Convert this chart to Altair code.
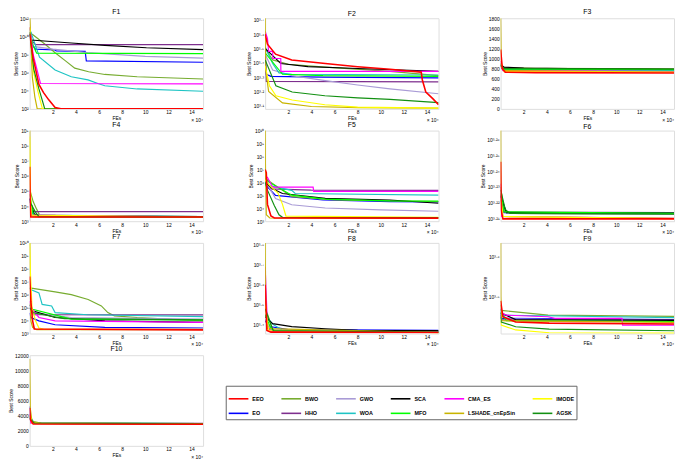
import altair as alt
import pandas as pd

# ---------------- data (x in units of 10^4 FEs) ----------------
ALGS = ["EO", "BWO", "HHO", "GWO", "WOA", "SCA", "MFO", "CMA_ES",
        "LSHADE_cnEpSin", "IMODE", "AGSK", "EEO"]          # drawing order (EEO on top)
LEGEND_ORDER = ["EEO", "EO", "BWO", "HHO", "GWO", "WOA",
                "SCA", "MFO", "CMA_ES", "LSHADE_cnEpSin", "IMODE", "AGSK"]
LEGEND_COLORS = ["#FF0000", "#0000FF", "#77AC30", "#7E2F8E", "#A99BD6", "#1FC4C4",
                 "#000000", "#00FF00", "#FF00FF", "#C8B400", "#FFFF00", "#129012"]

X_TICKS = [2, 4, 6, 8, 10, 12, 14]
X_DOMAIN = [0, 15]

# log panels hold log10(best score); linear panels hold best score
F1 = {
    "EEO": [(0, 10.3), (0.3, 7.6), (0.8, 4.7), (1.2, 3.8), (1.65, 3.0), (2.2, 2.15), (2.7, 2.02), (15, 2.02)],
    "EO": [(0, 10.3), (0.2, 9.1), (0.5, 8.6), (2.2, 8.5), (2.3, 8.4), (4.8, 8.35), (4.9, 7.3), (15, 7.15)],
    "BWO": [(0, 10.5), (0.25, 10.2), (1.36, 9.1), (2.2, 8.2), (3.1, 7.3), (3.9, 6.5), (5.1, 6.1), (6.5, 5.8), (9.3, 5.55), (15, 5.3)],
    "HHO": [(0, 11.0), (0.2, 9.5), (0.5, 9.1), (15, 9.1)],
    "GWO": [(0, 10.4), (0.3, 8.9), (2, 8.6), (5, 8.2), (10, 7.8), (15, 7.6)],
    "WOA": [(0, 10.8), (0.1, 10.5), (0.85, 7.7), (2.2, 6.3), (3.6, 5.55), (5.05, 5.2), (5.9, 4.8), (6.5, 4.55), (9.3, 4.2), (15, 3.95)],
    "SCA": [(0, 10.2), (0.1, 9.6), (3.6, 9.27), (6.5, 9.0), (10.1, 8.75), (15, 8.55)],
    "MFO": [(0, 10.3), (0.3, 9.0), (0.6, 8.15), (15, 8.1)],
    "CMA_ES": [(0, 11.0), (0.3, 8.0), (0.94, 4.8), (15, 4.77)],
    "LSHADE_cnEpSin": [(0, 12.5), (0.1, 9.5), (0.23, 5.5), (0.45, 3.3), (0.65, 2.02), (15, 2.02)],
    "IMODE": [(0, 11.0), (0.3, 6.3), (0.7, 4.0), (1.1, 2.02), (15, 2.02)],
    "AGSK": [(0, 10.5), (0.35, 6.4), (0.8, 4.2), (1.3, 2.02), (15, 2.02)],
}
F2 = {
    "EEO": [(0, 3.6), (0.2, 3.53), (0.9, 3.46), (2.3, 3.42), (5.2, 3.395), (8, 3.373), (10.8, 3.355), (12.2, 3.344), (13.5, 3.335), (13.6, 3.28), (13.9, 3.195), (14.5, 3.15), (15, 3.107)],
    "EO": [(0, 3.45), (0.1, 3.32), (0.5, 3.305), (5, 3.30), (15, 3.295)],
    "BWO": [(0, 3.5), (0.65, 3.42), (2, 3.39), (5.2, 3.37), (10.8, 3.34), (15, 3.31)],
    "HHO": [(0, 3.5), (0.1, 3.27), (15, 3.267)],
    "GWO": [(0, 3.46), (0.65, 3.35), (2.3, 3.31), (5.2, 3.275), (8, 3.245), (10.8, 3.218), (15, 3.184)],
    "WOA": [(0, 3.51), (0.65, 3.395), (1.2, 3.33), (2.3, 3.32), (15, 3.315)],
    "SCA": [(0, 3.5), (0.65, 3.45), (1.35, 3.395), (3.7, 3.373), (8, 3.36), (15, 3.34)],
    "MFO": [(0, 3.47), (1.5, 3.32), (5, 3.31), (15, 3.305)],
    "CMA_ES": [(0, 3.62), (0.2, 3.57), (0.3, 3.48), (0.65, 3.48), (0.66, 3.43), (1.35, 3.43), (1.36, 3.34), (15, 3.34)],
    "LSHADE_cnEpSin": [(0, 3.75), (0.05, 3.35), (0.3, 3.2), (1.5, 3.12), (4, 3.095), (8, 3.087), (15, 3.084)],
    "IMODE": [(0, 3.38), (0.37, 3.24), (0.93, 3.17), (2.34, 3.14), (5.17, 3.107), (8, 3.091), (15, 3.084)],
    "AGSK": [(0, 3.42), (0.93, 3.24), (2.34, 3.196), (5.17, 3.17), (8, 3.155), (10.8, 3.144), (15, 3.122)],
}
F3 = {
    "EEO": [(0, 1180), (0.15, 800), (0.4, 730), (3, 720), (15, 712)],
    "EO": [(0, 900), (0.2, 800), (2, 785), (15, 770)],
    "BWO": [(0, 880), (0.3, 820), (3, 805), (15, 795)],
    "HHO": [(0, 850), (0.2, 770), (15, 765)],
    "GWO": [(0, 880), (0.3, 780), (5, 760), (15, 745)],
    "WOA": [(0, 900), (0.3, 790), (15, 760)],
    "SCA": [(0, 870), (0.3, 830), (2, 810), (8, 795), (15, 785)],
    "MFO": [(0, 850), (0.3, 790), (15, 780)],
    "CMA_ES": [(0, 950), (0.2, 760), (15, 740)],
    "LSHADE_cnEpSin": [(0, 1850), (0.05, 900), (0.3, 760), (15, 730)],
    "IMODE": [(0, 900), (0.3, 740), (15, 725)],
    "AGSK": [(0, 870), (0.3, 800), (15, 790)],
}
F4 = {
    "EEO": [(0, 6.6), (0.05, 4.0), (0.1, 3.28), (15, 3.28)],
    "EO": [(0, 4.5), (0.3, 3.5), (0.6, 3.42), (0.75, 3.3), (15, 3.29)],
    "BWO": [(0, 5.1), (0.3, 4.3), (0.6, 3.8), (0.9, 3.35), (15, 3.3)],
    "HHO": [(0, 4.5), (0.2, 3.64), (15, 3.64)],
    "GWO": [(0, 4.3), (0.3, 3.45), (2.2, 3.4), (2.3, 3.3), (15, 3.29)],
    "WOA": [(0, 4.5), (0.3, 3.4), (15, 3.3)],
    "SCA": [(0, 4.5), (0.4, 3.45), (1, 3.35), (15, 3.3)],
    "MFO": [(0, 4.8), (0.3, 3.5), (0.5, 3.3), (15, 3.29)],
    "CMA_ES": [(0, 5.0), (0.1, 3.4), (15, 3.28)],
    "LSHADE_cnEpSin": [(0, 9.5), (0.03, 6.0), (0.08, 3.5), (0.3, 3.3), (15, 3.28)],
    "IMODE": [(0, 8.6), (0.05, 5.5), (0.15, 3.4), (15, 3.28)],
    "AGSK": [(0, 4.3), (0.5, 3.6), (0.8, 3.3), (15, 3.29)],
}
F5 = {
    "EEO": [(0, 7.0), (0.1, 6.75), (0.2, 4.3), (0.5, 3.4), (0.8, 3.25), (15, 3.24)],
    "EO": [(0, 6.0), (0.1, 5.75), (0.9, 5.0), (5, 4.64), (10.8, 4.52), (15, 4.5)],
    "BWO": [(0, 6.4), (0.1, 6.25), (2.3, 4.9), (6, 4.65), (15, 4.52)],
    "HHO": [(0, 6.3), (0.5, 5.5), (4, 5.4), (15, 5.38)],
    "GWO": [(0, 6.2), (0.1, 6.0), (0.9, 4.76), (2.3, 4.27), (5.2, 4.02), (10, 3.88), (15, 3.77)],
    "WOA": [(0, 6.1), (0.35, 5.75), (2.3, 5.38), (2.6, 5.14), (15, 5.01)],
    "SCA": [(0, 6.0), (0.65, 5.5), (1.5, 5.14), (5.2, 4.76), (10.8, 4.64), (15, 4.39)],
    "MFO": [(0, 6.3), (0.35, 6.0), (2.3, 5.01), (5.2, 4.71), (10.8, 4.57), (15, 4.55)],
    "CMA_ES": [(0, 6.5), (0.2, 6.38), (0.65, 5.63), (4.15, 5.63), (4.2, 5.3), (15, 5.3)],
    "LSHADE_cnEpSin": [(0, 10.5), (0.03, 7.0), (0.1, 3.5), (0.4, 3.25), (15, 3.23)],
    "IMODE": [(0, 6.2), (0.4, 5.75), (1.1, 5.2), (1.5, 4.3), (1.8, 3.4), (15, 3.3)],
    "AGSK": [(0, 6.0), (0.2, 5.4), (0.8, 4.2), (1.2, 3.5), (1.5, 3.3), (15, 3.28)],
}
F6 = {
    "EEO": [(0, 3.246), (0.05, 3.215), (0.2, 3.2095), (15, 3.2095)],
    "EO": [(0, 3.225), (0.3, 3.2135), (15, 3.2133)],
    "BWO": [(0, 3.23), (0.3, 3.215), (1, 3.213), (15, 3.2125)],
    "HHO": [(0, 3.222), (0.3, 3.2138), (15, 3.2135)],
    "GWO": [(0, 3.224), (0.5, 3.213), (15, 3.2125)],
    "WOA": [(0, 3.225), (0.5, 3.2135), (15, 3.213)],
    "SCA": [(0, 3.224), (0.5, 3.2135), (15, 3.2132)],
    "MFO": [(0, 3.226), (0.3, 3.214), (15, 3.213)],
    "CMA_ES": [(0, 3.232), (0.1, 3.211), (15, 3.2098)],
    "LSHADE_cnEpSin": [(0, 3.275), (0.03, 3.225), (0.2, 3.211), (15, 3.2099)],
    "IMODE": [(0, 3.222), (0.2, 3.211), (15, 3.2097)],
    "AGSK": [(0, 3.228), (0.4, 3.2155), (0.8, 3.213), (15, 3.2125)],
}
F7 = {
    "EEO": [(0, 7.4), (0.1, 5.5), (0.25, 4.0), (0.4, 3.35), (15, 3.28)],
    "EO": [(0, 4.6), (0.1, 4.24), (0.8, 3.98), (2.2, 3.68), (6.5, 3.48), (15, 3.43)],
    "BWO": [(0, 6.52), (2.2, 6.22), (3.6, 6.0), (5.06, 5.63), (6.2, 5.13), (6.76, 4.62), (7.33, 4.37), (9.3, 4.24), (15, 3.98)],
    "HHO": [(0, 5.0), (0.3, 4.45), (15, 4.44)],
    "GWO": [(0, 5.2), (0.25, 4.62), (3.6, 4.24), (15, 4.11)],
    "WOA": [(0, 6.5), (0.08, 6.4), (0.8, 6.14), (1.08, 5.25), (1.9, 5.13), (2.2, 4.62), (5, 4.45), (15, 4.3)],
    "SCA": [(0, 5.2), (0.25, 4.75), (2.2, 4.24), (6.5, 3.98), (15, 3.86)],
    "MFO": [(0, 5.3), (0.25, 4.87), (3.6, 4.11), (15, 4.03)],
    "CMA_ES": [(0, 5.5), (0.1, 5.0), (0.8, 4.24), (2.2, 3.98), (15, 3.86)],
    "LSHADE_cnEpSin": [(0, 10.2), (0.03, 7.5), (0.1, 4.0), (0.25, 3.48), (0.6, 3.3), (15, 3.3)],
    "IMODE": [(0, 10.2), (0.05, 8.0), (0.2, 5.0), (0.5, 4.0), (0.8, 3.43), (1.2, 3.35), (15, 3.33)],
    "AGSK": [(0, 5.0), (0.3, 4.6), (3, 4.15), (15, 4.05)],
}
F8 = {
    "EEO": [(0, 3.6), (0.15, 3.37), (0.5, 3.362), (15, 3.36)],
    "EO": [(0, 3.42), (0.4, 3.39), (2, 3.375), (15, 3.371)],
    "BWO": [(0, 3.5), (0.1, 3.47), (0.4, 3.42), (0.65, 3.37), (15, 3.362)],
    "HHO": [(0, 3.42), (0.5, 3.37), (15, 3.365)],
    "GWO": [(0, 3.43), (0.5, 3.375), (15, 3.364)],
    "WOA": [(0, 3.45), (0.65, 3.402), (1.36, 3.377), (1.5, 3.365), (15, 3.362)],
    "SCA": [(0, 3.44), (0.65, 3.405), (2.3, 3.39), (5.2, 3.379), (8, 3.371), (15, 3.37)],
    "MFO": [(0, 3.45), (0.5, 3.38), (1, 3.365), (15, 3.362)],
    "CMA_ES": [(0, 3.69), (0.2, 3.39), (0.5, 3.365), (15, 3.362)],
    "LSHADE_cnEpSin": [(0, 3.85), (0.05, 3.5), (0.2, 3.38), (15, 3.36)],
    "IMODE": [(0, 3.5), (0.3, 3.37), (15, 3.36)],
    "AGSK": [(0, 3.48), (0.3, 3.43), (0.7, 3.37), (15, 3.362)],
}
F9 = {
    "EEO": [(0, 3.49), (0.2, 3.45), (1.3, 3.437), (4.2, 3.434), (15, 3.432)],
    "EO": [(0, 3.46), (0.05, 3.446), (15, 3.443)],
    "BWO": [(0, 3.48), (0.05, 3.466), (4.1, 3.454), (15, 3.451)],
    "HHO": [(0, 3.455), (0.1, 3.442), (15, 3.442)],
    "GWO": [(0, 3.46), (0.5, 3.445), (15, 3.44)],
    "WOA": [(0, 3.47), (0.05, 3.454), (15, 3.448)],
    "SCA": [(0, 3.46), (1.3, 3.443), (15, 3.441)],
    "MFO": [(0, 3.46), (0.5, 3.44), (15, 3.438)],
    "CMA_ES": [(0, 3.47), (0.2, 3.458), (0.5, 3.454), (4.1, 3.45), (4.7, 3.446), (10.5, 3.446), (10.55, 3.429), (15, 3.429)],
    "LSHADE_cnEpSin": [(0, 3.7), (0.02, 3.5), (0.1, 3.44), (15, 3.436)],
    "IMODE": [(0, 3.44), (0.05, 3.429), (1.3, 3.417), (4.2, 3.41), (15, 3.409)],
    "AGSK": [(0, 3.45), (0.05, 3.437), (1.3, 3.425), (4.2, 3.419), (15, 3.415)],
}
F10 = {
    "EEO": [(0, 5000), (0.05, 3500), (0.3, 2900), (15, 2860)],
    "EO": [(0, 5200), (0.1, 3200), (0.5, 2960), (15, 2950)],
    "BWO": [(0, 4000), (0.3, 3200), (1, 3000), (15, 2960)],
    "HHO": [(0, 3600), (0.2, 3000), (15, 2980)],
    "GWO": [(0, 3800), (0.3, 3000), (15, 2940)],
    "WOA": [(0, 3900), (0.4, 3050), (15, 2960)],
    "SCA": [(0, 3700), (0.3, 3050), (1, 2980), (15, 2950)],
    "MFO": [(0, 3800), (0.3, 3000), (15, 2940)],
    "CMA_ES": [(0, 4200), (0.1, 3000), (15, 2900)],
    "LSHADE_cnEpSin": [(0, 11500), (0.05, 5000), (0.2, 3200), (1, 2950), (15, 2920)],
    "IMODE": [(0, 4000), (0.2, 3000), (15, 2900)],
    "AGSK": [(0, 3600), (0.4, 3000), (15, 2930)],
}

# name, data, scale kind, y domain, y tick values
PANELS = [
    ("F1", F1, "log", [2, 12], [2, 4, 6, 8, 10, 12]),
    ("F2", F2, "log", [3.078, 3.711], [3.1, 3.2, 3.3, 3.4, 3.5, 3.6, 3.7]),
    ("F3", F3, "lin", [0, 1800], [0, 200, 400, 600, 800, 1000, 1200, 1400, 1600, 1800]),
    ("F4", F4, "log", [3, 9], [3, 4, 5, 6, 7, 8, 9]),
    ("F5", F5, "log", [3, 10], [3, 4, 5, 6, 7, 8, 9, 10]),
    ("F6", F6, "log", [3.208, 3.266], [3.21, 3.22, 3.23, 3.24, 3.25, 3.26]),
    ("F7", F7, "log", [3, 10], [3, 4, 5, 6, 7, 8, 9, 10]),
    ("F8", F8, "log", [3.355, 3.81], [3.4, 3.5, 3.6, 3.7, 3.8]),
    ("F9", F9, "log", [3.408, 3.635], [3.5, 3.6]),
    ("F10", F10, "lin", [0, 12000], [0, 2000, 4000, 6000, 8000, 10000, 12000]),
]

# ---------------- chart ----------------
W, H = 176, 92
FONT = "Liberation Sans"
SUP = str.maketrans("0123456789.", "⁰¹²³⁴⁵⁶⁷⁸⁹·")


def exp_label(v):
    return "10" + ("%g" % v).translate(SUP)


def label_expr(ticks):
    expr = "''"
    for t in reversed(ticks):
        expr = f"abs(datum.value - {t}) < 1e-6 ? '{exp_label(t)}' : {expr}"
    return expr


def panel(name, data, kind, domain, ticks):
    rows = [{"alg": a, "x": x, "v": v} for a in ALGS for (x, v) in data[a]]
    df = pd.DataFrame(rows)
    yax = dict(values=ticks, title="Best Score", labelFontSize=5, titleFontSize=5,
               titleFontWeight="normal", labelPadding=1.5, titlePadding=1,
               ticks=False, domain=False, grid=False, labelFont=FONT, titleFont=FONT,
               labelColor="black", titleColor="black")
    if kind == "log":
        yax["labelExpr"] = label_expr(ticks)
    else:
        yax["format"] = "d"
    lines = alt.Chart(df).mark_line(clip=True).encode(
        x=alt.X("x:Q", scale=alt.Scale(domain=X_DOMAIN, nice=False, zero=False),
                axis=alt.Axis(values=X_TICKS, title="FEs", format="d", labelFontSize=5,
                              titleFontSize=5, titleFontWeight="normal", labelPadding=1,
                              titlePadding=1, ticks=False, domain=False, grid=False,
                              labelFont=FONT, titleFont=FONT, labelColor="black",
                              titleColor="black")),
        y=alt.Y("v:Q", scale=alt.Scale(domain=domain, nice=False, zero=False), axis=alt.Axis(**yax)),
        color=alt.Color("alg:N", scale=alt.Scale(domain=LEGEND_ORDER, range=LEGEND_COLORS),
                        legend=alt.Legend(orient="none", legendX=199, legendY=373, columns=6,
                                          title=None, symbolType="stroke", symbolSize=400,
                                          symbolStrokeWidth=1.6, labelFontSize=5.5,
                                          labelFontWeight="bold", labelFont=FONT,
                                          strokeColor="#666666", padding=2,
                                          columnPadding=13.5, rowPadding=0, labelOffset=3)),
        strokeWidth=alt.condition("datum.alg === 'EEO'", alt.value(1.6), alt.value(1.2)),
    )
    note = alt.Chart(pd.DataFrame({"t": ["× 10⁴"]})).mark_text(
        align="right", baseline="middle", fontSize=5, font=FONT, color="black"
    ).encode(x=alt.value(W), y=alt.value(H + 11), text="t:N")
    return alt.layer(lines, note).properties(
        width=W, height=H,
        title=alt.Title(name, fontSize=7, fontWeight="normal", offset=1, font=FONT, color="black"))


charts = [panel(*p) for p in PANELS]
chart = alt.concat(*charts, columns=3, spacing=alt.RowColnumber(row=22, column=63),
                   bounds="flush").properties(
    padding={"top": -4, "left": 0, "right": 0, "bottom": 0})
chart = chart.configure_view(stroke="black", strokeWidth=0.8).configure(background="white")

chart.save("out.html", embed_options={"renderer": "svg", "actions": False})
